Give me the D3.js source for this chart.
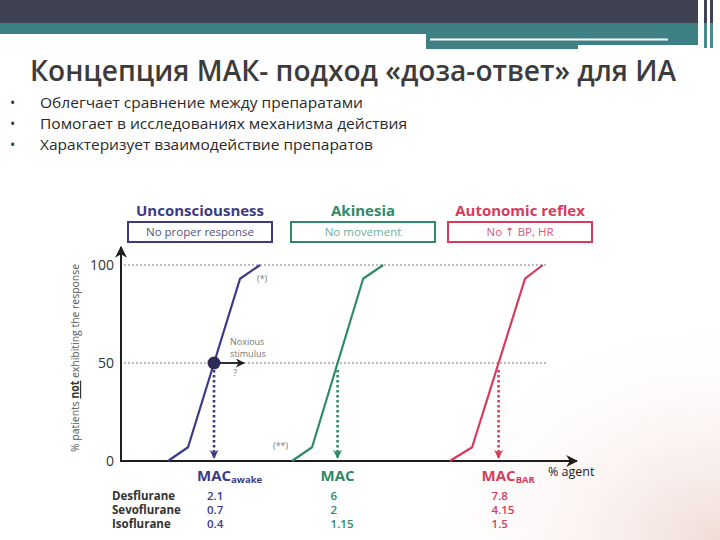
<!DOCTYPE html>
<html>
<head>
<meta charset="utf-8">
<script src="https://cdn.jsdelivr.net/npm/d3@7"></script>
<style>
  html, body { margin: 0; padding: 0; background: #fff; }
  svg { display: block; font-family: "Open Sans", "DejaVu Sans", sans-serif; }
</style>
</head>
<body>
<div id="vis"></div>
<script>
// --- data ---
var titleText = "Концепция МАК- подход «доза-ответ» для ИА";
var bullets = [
  "Облегчает сравнение между препаратами",
  "Помогает в исследованиях механизма действия",
  "Характеризует взаимодействие препаратов"
];
var responses = ["Unconsciousness", "Akinesia", "Autonomic reflex"];
var criteria = ["No proper response", "No movement", "No \u2191  BP, HR"];
var macNames = ["MAC", "MAC", "MAC"];
var macSubs = ["awake", "", "BAR"];
// % agent (arbitrary units) for each curve, at the pctPoints below
var curveAgent = [
  [1.03, 1.47, 2.61, 3.05],
  [3.75, 4.19, 5.31, 5.75],
  [7.21, 7.70, 8.86, 9.25]
];
var pctPoints = [0, 7, 93, 100];
var yTicks = [0, 50, 100];
var gridTicks = [50, 100];
var agents = ["Desflurane", "Sevoflurane", "Isoflurane"];
var macValues = [
  ["2.1", "0.7", "0.4"],
  ["6", "2", "1.15"],
  ["7.8", "4.15", "1.5"]
];

// --- layout ---
var width = 720, height = 540;
var colors = ["#3b3a86", "#2f8a68", "#d83a5c"];
var boxText = ["#55557e", "#6fae98", "#d9587a"];
var boxCenters = [200, 363, 520];

var x = d3.scaleLinear().domain([0, 10]).range([121, 577]);
var y = d3.scaleLinear().domain([0, 100]).range([461, 265]);

var svg = d3.select('#vis').append('svg')
    .attr('width', width)
    .attr('height', height)
    .attr('viewBox', '0 0 ' + width + ' ' + height);

var defs = svg.append('defs');
var grad = defs.append('radialGradient').attr('id', 'paper')
    .attr('cx', '1').attr('cy', '1').attr('r', '0.45');
grad.append('stop').attr('offset', '0').attr('stop-color', '#f1dcd6');
grad.append('stop').attr('offset', '1').attr('stop-color', '#ffffff').attr('stop-opacity', 0);

function marker(id, col, size) {
  defs.append('marker')
      .attr('id', id)
      .attr('viewBox', '0 0 10 10')
      .attr('refX', 9).attr('refY', 5)
      .attr('markerWidth', size).attr('markerHeight', size)
      .attr('markerUnits', 'userSpaceOnUse')
      .attr('orient', 'auto')
    .append('path')
      .attr('d', 'M0,0 L10,5 L0,10 L3,5 Z')
      .attr('fill', col);
}
marker('arrBlack', '#1e1e1e', 12);
marker('arrSmall', '#1e1e1e', 9);
colors.forEach(function (c, i) { marker('arr' + i, c, 9); });

svg.append('rect').attr('width', width).attr('height', height).attr('fill', '#fff');
svg.append('rect').attr('width', width).attr('height', height).attr('fill', 'url(#paper)');

// header bands
var head = svg.append('g');
head.append('rect').attr('x', 0).attr('y', 0).attr('width', 698).attr('height', 23).attr('fill', '#3e4253');
head.append('rect').attr('x', 0).attr('y', 23).attr('width', 698).attr('height', 11).attr('fill', '#3e8084');
head.append('rect').attr('x', 426).attr('y', 34).attr('width', 272).attr('height', 11).attr('fill', '#3e8084');
head.append('rect').attr('x', 426).attr('y', 45).attr('width', 152).attr('height', 4).attr('fill', '#3e8084');
head.append('rect').attr('x', 430).attr('y', 38.5).attr('width', 238).attr('height', 2).attr('fill', '#fff');
[704, 710].forEach(function (vx) {
  head.append('rect').attr('x', vx).attr('y', 0).attr('width', 3).attr('height', 23).attr('fill', '#3e4253');
  head.append('rect').attr('x', vx).attr('y', 23).attr('width', 3).attr('height', 25).attr('fill', '#4a8a8c');
});

// title and bullets
svg.append('text')
    .attr('x', 30).attr('y', 81)
    .attr('font-size', 28).attr('font-weight', 600)
    .attr('fill', '#3c3c3c')
    .attr('textLength', 646).attr('lengthAdjust', 'spacingAndGlyphs')
    .text(titleText);

var bulletLen = [323, 367, 333];
var bl = svg.append('g').selectAll('g').data(bullets).enter().append('g')
    .attr('transform', function (d, i) { return 'translate(0,' + (108 + i * 21) + ')'; });
bl.append('text').attr('x', 10).attr('font-size', 14).attr('fill', '#333').text('\u2022');
bl.append('text').attr('x', 40).attr('font-size', 14).attr('fill', '#2a2a2a')
    .attr('textLength', function (d, i) { return bulletLen[i]; })
    .attr('lengthAdjust', 'spacingAndGlyphs')
    .text(function (d) { return d; });

// response headers with boxes
var hd = svg.append('g').selectAll('g').data(responses).enter().append('g')
    .attr('transform', function (d, i) { return 'translate(' + boxCenters[i] + ',0)'; });
hd.append('text')
    .attr('y', 216).attr('text-anchor', 'middle')
    .attr('font-size', 15).attr('font-weight', 700)
    .attr('fill', function (d, i) { return colors[i]; })
    .text(function (d) { return d; });
hd.append('rect')
    .attr('x', -72).attr('y', 222).attr('width', 144).attr('height', 20)
    .attr('fill', 'none').attr('stroke-width', 2)
    .attr('stroke', function (d, i) { return colors[i]; });
hd.append('text')
    .attr('y', 236).attr('text-anchor', 'middle')
    .attr('font-size', 11.5)
    .attr('fill', function (d, i) { return boxText[i]; })
    .text(function (d, i) { return criteria[i]; });

// grid lines (dotted)
svg.append('g').selectAll('line').data(gridTicks).enter().append('line')
    .attr('x1', 124).attr('x2', 548)
    .attr('y1', function (d) { return y(d); })
    .attr('y2', function (d) { return y(d); })
    .attr('stroke', '#7a7a7a').attr('stroke-width', 1)
    .attr('stroke-dasharray', '2,2');

// y ticks via axis
var yAxis = svg.append('g')
    .attr('transform', 'translate(118,0)')
    .call(d3.axisLeft(y).tickValues(yTicks).tickSize(0).tickPadding(4));
yAxis.select('.domain').remove();
yAxis.selectAll('text')
    .attr('font-family', '"Open Sans", sans-serif')
    .attr('font-size', 14).attr('fill', '#333');

// axes with arrows
svg.append('line')
    .attr('x1', x(0)).attr('y1', y(0) + 1).attr('x2', x(0)).attr('y2', 247)
    .attr('stroke', '#1e1e1e').attr('stroke-width', 2)
    .attr('marker-end', 'url(#arrBlack)');
svg.append('line')
    .attr('x1', x(0) - 1).attr('y1', y(0)).attr('x2', x(10)).attr('y2', y(0))
    .attr('stroke', '#1e1e1e').attr('stroke-width', 2)
    .attr('marker-end', 'url(#arrBlack)');

svg.append('text')
    .attr('x', 548).attr('y', 476)
    .attr('font-size', 12.5).attr('fill', '#222')
    .text('% agent');

// y label
var yl = svg.append('text')
    .attr('transform', 'translate(79,358) rotate(-90)')
    .attr('text-anchor', 'middle')
    .attr('font-size', 11.5).attr('fill', '#555')
    .attr('textLength', 188).attr('lengthAdjust', 'spacingAndGlyphs');
yl.append('tspan').text('% patients ');
yl.append('tspan').attr('font-weight', 700).attr('text-decoration', 'underline').attr('fill', '#333').text('not');
yl.append('tspan').text(' exhibiting the response');

// curves
var line = d3.line()
    .x(function (d) { return x(d[0]); })
    .y(function (d) { return y(d[1]); });

function at50(pts) {
  var a = pts[1], b = pts[2];
  return a + (50 - pctPoints[1]) / (pctPoints[2] - pctPoints[1]) * (b - a);
}

curveAgent.forEach(function (pts, i) {
  var data = pts.map(function (v, k) { return [v, pctPoints[k]]; });
  svg.append('path')
      .datum(data)
      .attr('d', line)
      .attr('fill', 'none')
      .attr('stroke', colors[i])
      .attr('stroke-width', 2.2)
      .attr('stroke-linejoin', 'round');

  var mx = x(at50(pts));
  svg.append('line')
      .attr('x1', mx).attr('y1', y(50) + 7)
      .attr('x2', mx).attr('y2', y(0) - 3)
      .attr('stroke', colors[i]).attr('stroke-width', 2.6)
      .attr('stroke-dasharray', '2.5,2.5')
      .attr('marker-end', 'url(#arr' + i + ')');

  var lab = svg.append('text')
      .attr('x', mx - 17).attr('y', 481)
      .attr('font-size', 15).attr('font-weight', 700)
      .attr('fill', colors[i]);
  lab.append('tspan').text(macNames[i]);
  if (macSubs[i]) {
    lab.append('tspan').attr('font-size', 9.5).attr('dy', 2).text(macSubs[i]);
  }

  svg.append('g').selectAll('text').data(macValues[i]).enter().append('text')
      .attr('x', mx - 7)
      .attr('y', function (d, k) { return 500 + k * 14; })
      .attr('font-size', 11.5).attr('font-weight', 600)
      .attr('fill', colors[i])
      .text(function (d) { return d; });
});

// agent names
svg.append('g').selectAll('text').data(agents).enter().append('text')
    .attr('x', 112)
    .attr('y', function (d, k) { return 500 + k * 14; })
    .attr('font-size', 11.5).attr('font-weight', 700)
    .attr('fill', '#333')
    .text(function (d) { return d; });

// noxious stimulus annotation
var bx = x(at50(curveAgent[0]));
svg.append('line')
    .attr('x1', bx).attr('y1', y(50)).attr('x2', bx + 30).attr('y2', y(50))
    .attr('stroke', '#1e1e1e').attr('stroke-width', 1.8)
    .attr('marker-end', 'url(#arrSmall)');
svg.append('circle')
    .attr('cx', bx).attr('cy', y(50)).attr('r', 6.5)
    .attr('fill', '#2b2b55');
var nox = svg.append('g').attr('font-size', 9).attr('fill', '#777');
nox.append('text').attr('x', bx + 16).attr('y', 345).text('Noxious');
nox.append('text').attr('x', bx + 16).attr('y', 357).text('stimulus');
nox.append('text').attr('x', bx + 19).attr('y', 376).text('?');
nox.append('text').attr('x', 257).attr('y', 282).text('(*)');
nox.append('text').attr('x', 273).attr('y', 449).text('(**)');
</script>
</body>
</html>
